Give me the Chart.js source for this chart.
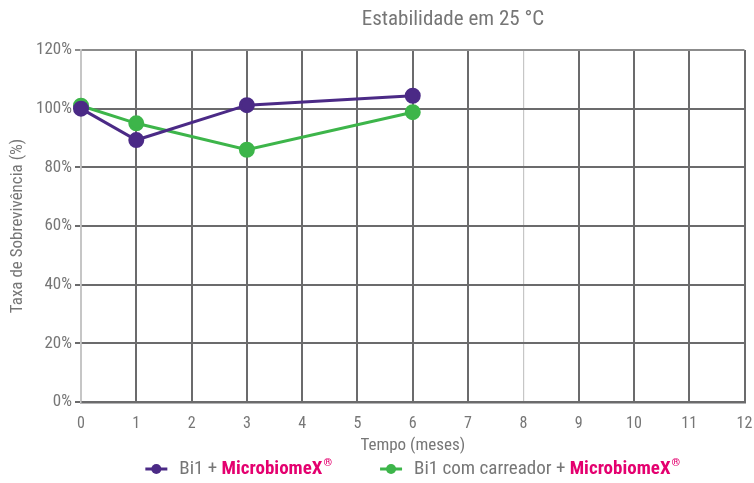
<!DOCTYPE html>
<html>
<head>
<meta charset="utf-8">
<script src="https://cdn.jsdelivr.net/npm/chart.js@4/dist/chart.umd.min.js"></script>
<style>
  html, body { margin: 0; padding: 0; background: #ffffff; }
  #wrap { width: 754px; height: 483px; }
</style>
</head>
<body>
<div id="wrap"><canvas id="c" width="754" height="483"></canvas></div>
<script>
// Survival over time at 25 °C
const months = [0, 1, 3, 6];
const bi1Values = [100, 89.3, 101.2, 104.4];
const bi1CarrierValues = [101, 95, 86, 98.8];
const seriesPrefixes = ['Bi1 + ', 'Bi1 com carreador + '];
const brandName = 'MicrobiomeX';
const brandMark = '®';
const seriesColors = ['#4b2a86', '#3db54a'];
const xTicks = [0, 1, 2, 3, 4, 5, 6, 7, 8, 9, 10, 11, 12];
const yTicks = [0, 20, 40, 60, 80, 100, 120];
const chartTitle = 'Estabilidade em 25 °C';
const xTitle = 'Tempo (meses)';
const yTitle = 'Taxa de Sobrevivência (%)';

const FONT = "'Liberation Sans Narrow', 'Roboto Condensed', 'DejaVu Sans Condensed', sans-serif";
const TEXT_GRAY = '#767676';
const GRID_DARK = '#6b6b6c';
const GRID_LIGHT = '#c6c6c6';
const BRAND_PINK = '#e4006f';

Chart.defaults.font.family = FONT;
Chart.defaults.color = TEXT_GRAY;

const toPoints = vals => months.map((m, i) => ({ x: m, y: vals[i] }));

const datasets = [bi1Values, bi1CarrierValues].map((vals, i) => ({
  label: seriesPrefixes[i] + brandName + brandMark,
  data: toPoints(vals),
  borderColor: seriesColors[i],
  backgroundColor: seriesColors[i],
  pointBackgroundColor: seriesColors[i],
  pointBorderColor: seriesColors[i],
  borderWidth: 3,
  pointRadius: 6.5,
  pointHoverRadius: 6.5,
  tension: 0,
  clip: false
}));

// Title above the plot
const titlePlugin = {
  id: 'topTitle',
  afterDraw(chart) {
    const ctx = chart.ctx;
    ctx.save();
    ctx.font = '21px ' + FONT;
    ctx.fillStyle = TEXT_GRAY;
    ctx.textAlign = 'center';
    ctx.textBaseline = 'middle';
    ctx.fillText(chartTitle, 453, 20);
    ctx.restore();
  }
};

// Legend with the brand name highlighted
const brandLegend = {
  id: 'brandLegend',
  afterDraw(chart) {
    const ctx = chart.ctx;
    const y = 469;
    const markerW = 22, gapAfterMarker = 12, gapItems = 48;
    const plainFont = '19px ' + FONT;
    const brandFont = 'bold 19px ' + FONT;
    const supFont = 'bold 11px ' + FONT;
    ctx.save();
    const widths = seriesPrefixes.map(p => {
      ctx.font = plainFont; const a = ctx.measureText(p).width;
      ctx.font = brandFont; const b = ctx.measureText(brandName).width;
      ctx.font = supFont; const c = ctx.measureText(brandMark).width;
      return markerW + gapAfterMarker + a + b + c + 1;
    });
    const total = widths.reduce((s, w) => s + w, 0) + gapItems * (widths.length - 1);
    const area = chart.chartArea;
    let x = (area.left + area.right) / 2 - total / 2;
    seriesPrefixes.forEach((p, i) => {
      const col = seriesColors[i];
      ctx.strokeStyle = col; ctx.lineWidth = 3;
      ctx.beginPath(); ctx.moveTo(x, y); ctx.lineTo(x + markerW, y); ctx.stroke();
      ctx.fillStyle = col;
      ctx.beginPath(); ctx.arc(x + markerW / 2, y, 5, 0, Math.PI * 2); ctx.fill();
      let tx = x + markerW + gapAfterMarker;
      ctx.textBaseline = 'middle'; ctx.textAlign = 'left';
      ctx.font = plainFont; ctx.fillStyle = TEXT_GRAY;
      ctx.fillText(p, tx, y); tx += ctx.measureText(p).width;
      ctx.font = brandFont; ctx.fillStyle = BRAND_PINK;
      ctx.fillText(brandName, tx, y); tx += ctx.measureText(brandName).width + 1;
      ctx.font = supFont;
      ctx.fillText(brandMark, tx, y - 6);
      x += widths[i] + gapItems;
    });
    ctx.restore();
  }
};

new Chart(document.getElementById('c'), {
  type: 'line',
  data: { datasets },
  plugins: [titlePlugin, brandLegend],
  options: {
    responsive: false,
    animation: false,
    devicePixelRatio: 1,
    layout: { padding: { top: 50, right: 0, left: 0, bottom: 0 } },
    plugins: {
      legend: { display: false },
      title: { display: false },
      tooltip: { enabled: false }
    },
    scales: {
      x: {
        type: 'linear',
        min: 0,
        max: 12,
        afterBuildTicks: s => { s.ticks = xTicks.map(v => ({ value: v })); },
        afterFit: s => { s.height = 81; s.paddingRight = 8; },
        ticks: { font: { size: 16 }, color: TEXT_GRAY, padding: 12, maxRotation: 0, autoSkip: false },
        grid: {
          drawTicks: false,
          color: c => (c.index === 0 ? GRID_LIGHT : (c.tick && c.tick.value === 8 ? GRID_LIGHT : GRID_DARK)),
          lineWidth: c => (c.tick && c.tick.value === 8 ? 1.2 : 2)
        },
        border: { color: GRID_DARK, width: 2.5 },
        title: { display: true, text: xTitle, font: { size: 17 }, color: TEXT_GRAY, padding: { top: 0, bottom: 27 } }
      },
      y: {
        min: 0,
        max: 120,
        afterBuildTicks: s => { s.ticks = yTicks.map(v => ({ value: v })); },
        afterFit: s => { s.width = 81; },
        ticks: { font: { size: 17 }, color: TEXT_GRAY, padding: 3, callback: v => v + '%' },
        grid: {
          drawTicks: true,
          tickLength: 6,
          color: c => (c.tick && c.tick.value === 120 ? '#8c8c8c' : GRID_DARK),
          lineWidth: 2
        },
        border: { color: GRID_LIGHT, width: 1.5 },
        title: { display: true, text: yTitle, font: { size: 17 }, color: TEXT_GRAY, padding: { top: 8, bottom: 0 } }
      }
    }
  }
});
</script>
</body>
</html>
